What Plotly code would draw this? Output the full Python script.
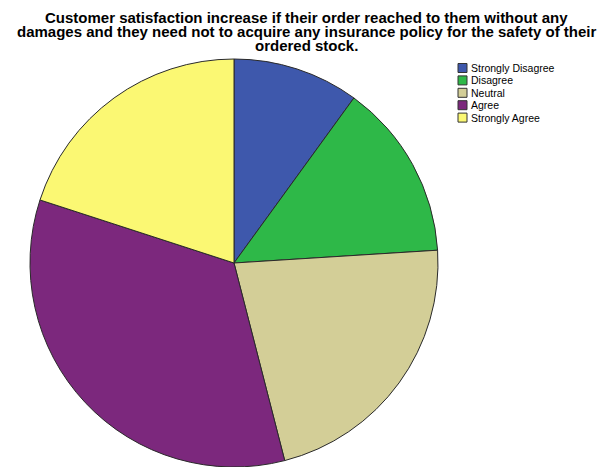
import plotly.graph_objects as go

W, H = 601, 467

# Survey response shares
categories = ["Strongly Disagree", "Disagree", "Neutral", "Agree", "Strongly Agree"]
counts = [10, 14, 22, 34, 20]
colors = ["#3E58AC", "#2EB848", "#D3CE97", "#7C287D", "#FBF873"]

title_lines = [
    "Customer satisfaction increase if their order reached to them without any",
    "damages and they need not to acquire any insurance policy for the safety of their",
    "ordered stock.",
]

# pie geometry in pixels
cx, cy, r = 234, 263, 204


def px_x(x):
    return x / W


def px_y(y):
    return 1 - y / H


fig = go.Figure(
    go.Pie(
        labels=categories,
        values=counts,
        marker=dict(colors=colors, line=dict(color="#2a2a2a", width=1)),
        sort=False,
        direction="clockwise",
        rotation=0,
        textinfo="none",
        hoverinfo="label+value+percent",
        showlegend=False,
        domain=dict(
            x=[px_x(cx - r), px_x(cx + r)],
            y=[max(0.0, px_y(cy + r)), px_y(cy - r)],
        ),
    )
)

annotations = []
for i, line in enumerate(title_lines):
    annotations.append(
        dict(
            text=f"<b>{line}</b>",
            x=px_x(306), y=px_y(18 + 14 * i),
            xref="paper", yref="paper",
            xanchor="center", yanchor="middle",
            showarrow=False,
            font=dict(family="Liberation Sans, Arial, sans-serif", size=15, color="#000"),
        )
    )

# legend drawn as swatches with labels
shapes = []
for i, (lab, col) in enumerate(zip(categories, colors)):
    top = 63.5 + 12.4 * i
    shapes.append(
        dict(
            type="rect", xref="paper", yref="paper",
            x0=px_x(458), x1=px_x(467), y0=px_y(top + 9), y1=px_y(top),
            fillcolor=col, line=dict(color="#333", width=1),
        )
    )
    annotations.append(
        dict(
            text=lab, x=px_x(469), y=px_y(top + 4.5),
            xref="paper", yref="paper",
            xanchor="left", yanchor="middle", showarrow=False,
            font=dict(family="Liberation Sans, Arial, sans-serif", size=10.5, color="#000"),
        )
    )

fig.update_layout(
    width=W, height=H,
    margin=dict(l=0, r=0, t=0, b=0),
    paper_bgcolor="white",
    plot_bgcolor="white",
    annotations=annotations,
    shapes=shapes,
)

fig.write_html("out.html")
